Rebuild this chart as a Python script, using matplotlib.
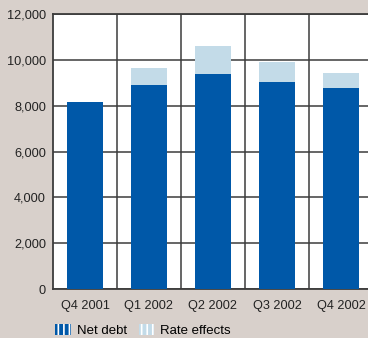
import matplotlib
matplotlib.use("Agg")
import matplotlib.pyplot as plt
from matplotlib.patches import Patch
from matplotlib.ticker import FuncFormatter

plt.rcParams['font.family'] = ['Liberation Sans Narrow', 'Liberation Sans', 'DejaVu Sans']
plt.rcParams['hatch.color'] = 'white'
plt.rcParams['hatch.linewidth'] = 1.2

quarters = ['Q4 2001', 'Q1 2002', 'Q2 2002', 'Q3 2002', 'Q4 2002']
net_debt = [8150, 8900, 9390, 9040, 8780]
rate_effects = [0, 750, 1220, 870, 650]
y_ticks = [0, 2000, 4000, 6000, 8000, 10000, 12000]

bg = '#d8d0cb'
dark_blue = '#0058a8'
light_blue = '#c3dbe8'
grid_col = '#3c3c3c'

fig = plt.figure(figsize=(3.68, 3.38), dpi=100, facecolor=bg)
ax = fig.add_axes([53 / 368, 49 / 338, 320 / 368, 275 / 338])
ax.set_facecolor('white')

x = range(len(quarters))
ax.bar(x, net_debt, width=0.55, color=dark_blue, zorder=3)
ax.bar(x, rate_effects, width=0.55, bottom=net_debt, color=light_blue, zorder=3)

ax.set_xlim(-0.5, len(quarters) - 0.5)
ax.set_ylim(0, 12000)
ax.set_yticks(y_ticks)
ax.yaxis.set_major_formatter(FuncFormatter(lambda v, p: f'{int(v):,}'))
ax.set_xticks(list(x))
ax.set_xticklabels(quarters)
ax.set_xticks([i + 0.5 for i in range(len(quarters) - 1)], minor=True)

ax.grid(axis='y', which='major', color=grid_col, linewidth=1.1, zorder=1)
ax.grid(axis='x', which='minor', color=grid_col, linewidth=1.1, zorder=1)
ax.tick_params(which='both', length=0, labelsize=9.2, colors='#222222')
ax.tick_params(axis='x', pad=8)
ax.tick_params(axis='y', pad=5)
for s in ax.spines.values():
    s.set_color(grid_col)
    s.set_linewidth(1.3)

handles = [Patch(facecolor=dark_blue, hatch='|||', edgecolor='white', linewidth=0),
           Patch(facecolor=light_blue, hatch='|||', edgecolor='white', linewidth=0)]
fig.legend(handles, ['Net debt', 'Rate effects'], loc='lower left',
           bbox_to_anchor=(43 / 368, -11 / 338), ncol=2, frameon=False,
           fontsize=9.5, handlelength=1.2, handleheight=0.9,
           handletextpad=0.45, columnspacing=0.9)

fig.savefig('out.png', dpi=100, facecolor=bg)
